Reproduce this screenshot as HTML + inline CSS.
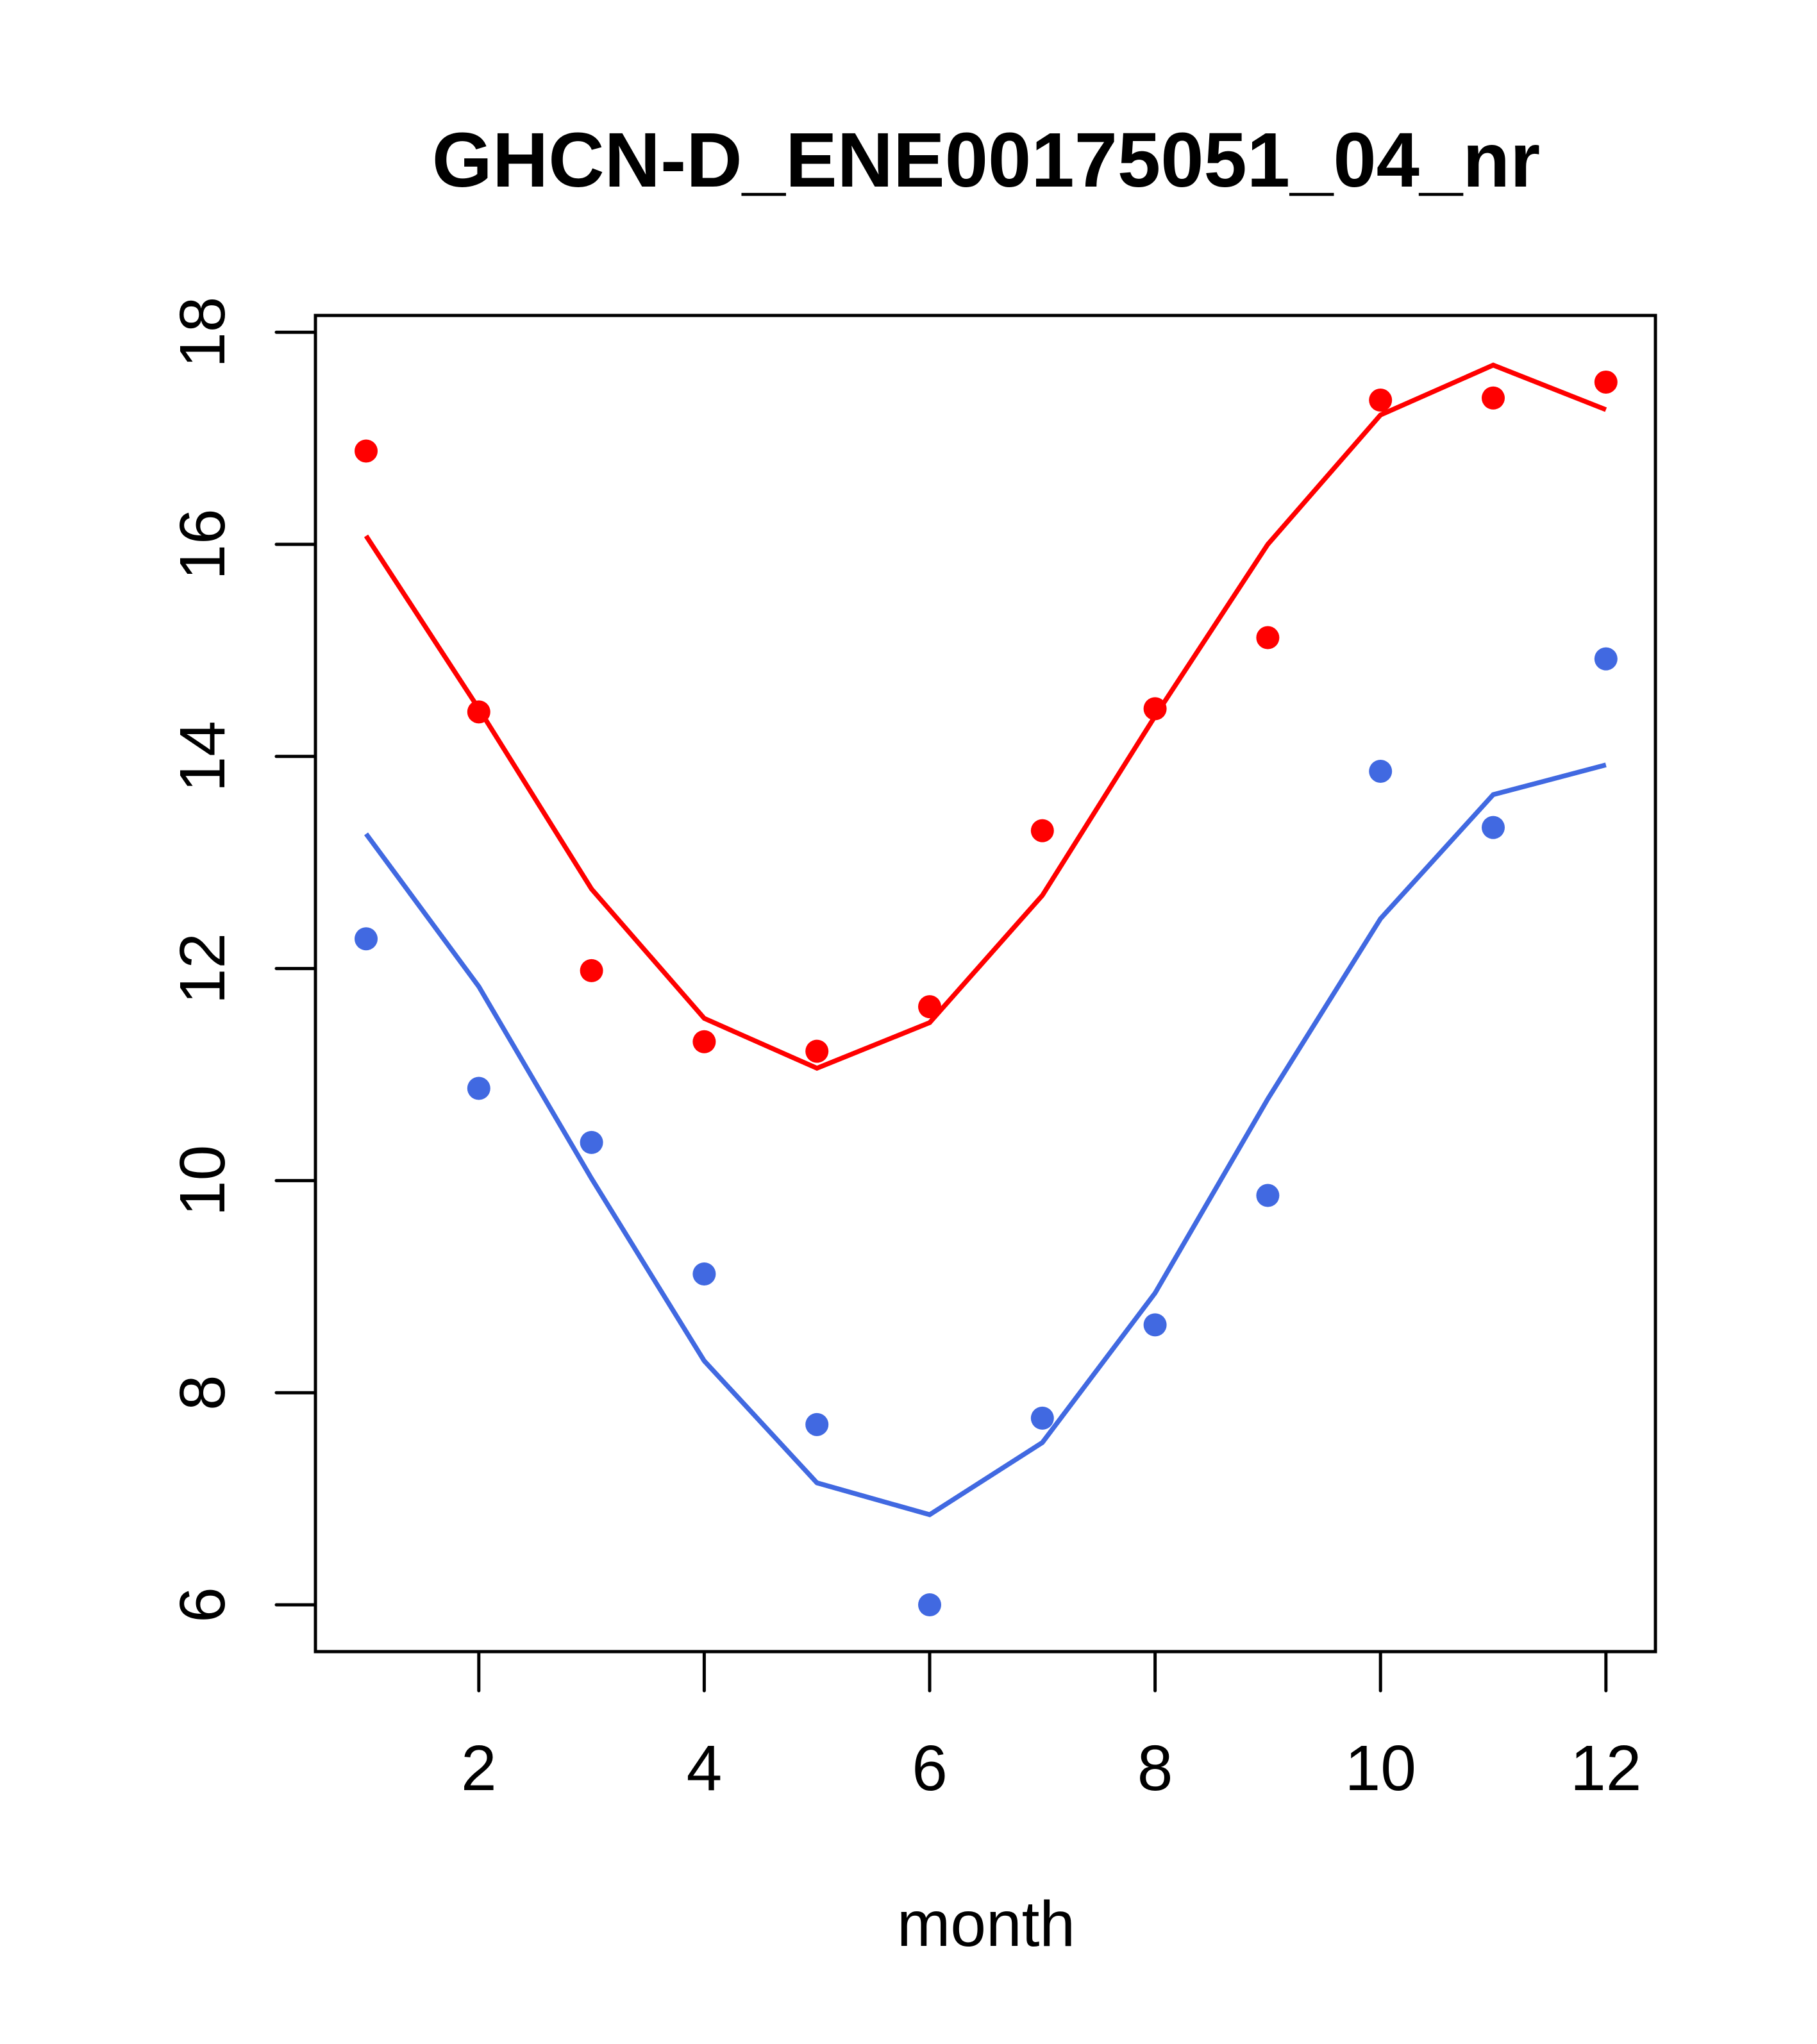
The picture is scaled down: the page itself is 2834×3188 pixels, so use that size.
<!DOCTYPE html>
<html><head><meta charset="utf-8"><style>html,body{margin:0;padding:0;background:#fff}svg{display:block}text{font-family:"Liberation Sans",Arial,sans-serif}</style></head>
<body>
<svg id="chart" width="2834" height="3188" viewBox="0 0 2834 3188" xmlns="http://www.w3.org/2000/svg">
<rect width="2834" height="3188" fill="#fff"/>
<text x="1538" y="291" font-size="121" font-weight="bold" text-anchor="middle">GHCN-D_ENE00175051_04_nr</text>
<text x="1538" y="3035" font-size="100" text-anchor="middle">month</text>
<rect x="492" y="492" width="2090" height="2084" fill="none" stroke="#000" stroke-width="5"/>
<g id="marks"></g>
</svg>
<script>
const months = [1,2,3,4,5,6,7,8,9,10,11,12];
const redPoints = [16.88,14.42,11.98,11.31,11.22,11.64,13.3,14.45,15.12,17.36,17.38,17.53];
const redLine = [16.08,14.45,12.75,11.53,11.06,11.49,12.69,14.38,16.0,17.22,17.69,17.27];
const bluePoints = [12.28,10.87,10.36,9.12,7.70,6.0,7.76,8.64,9.86,13.86,13.33,14.92];
const blueLine = [13.27,11.83,10.02,8.30,7.15,6.85,7.53,8.94,10.77,12.47,13.64,13.92];
const xTicks = [2,4,6,8,10,12];
const yTicks = [6,8,10,12,14,16,18];

const NS = "http://www.w3.org/2000/svg";
function xs(m){ return 571 + (m-1)*175.8; }
function ys(v){ return 2503 - (v-6)*165.4; }
const g = document.getElementById('marks');
function mk(tag, attrs, parent){ const e=document.createElementNS(NS,tag); for(const k in attrs) e.setAttribute(k,attrs[k]); (parent||g).appendChild(e); return e; }

xTicks.forEach(t=>{
  const l = mk('line',{x1:xs(t),x2:xs(t),y1:2576,y2:2637,stroke:'#000','stroke-width':5,'stroke-linecap':'round'});
  
  
  const tx = mk('text',{x:xs(t),y:2792,'font-size':100,'text-anchor':'middle'});
  tx.textContent = t;
  
  
});
yTicks.forEach(t=>{
  const l = mk('line',{x1:431,x2:492,y1:ys(t),y2:ys(t),stroke:'#000','stroke-width':5,'stroke-linecap':'round'});
  
  
  const tx = mk('text',{x:0,y:0,'font-size':100,'text-anchor':'middle',transform:'translate(350,'+ys(t)+') rotate(-90)'});
  tx.textContent = t;
  
  
});
function drawLine(vals,color,name){
  const p = mk('polyline',{points:vals.map((v,i)=>xs(months[i])+','+ys(v)).join(' '),fill:'none',stroke:color,'stroke-width':7.5});
  
  
}
function drawPts(vals,color,name){
  vals.forEach((v,i)=>{
    const c = mk('circle',{cx:xs(months[i]),cy:ys(v),r:18,fill:color});
    
    
  });
}
drawLine(redLine,'#ff0000','red-fit-line');
drawLine(blueLine,'#4169e1','blue-fit-line');
drawPts(redPoints,'#ff0000','red-point');
drawPts(bluePoints,'#4169e1','blue-point');
</script>
</body></html>
